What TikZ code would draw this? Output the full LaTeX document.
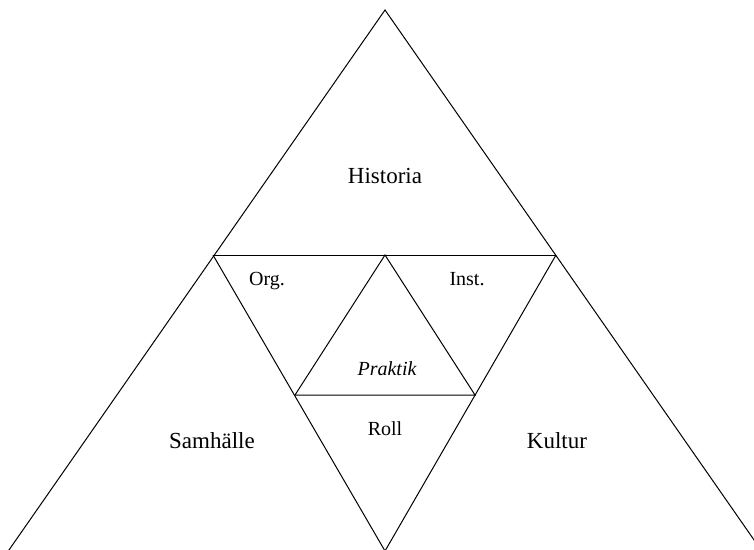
\documentclass[tikz,border=0pt]{standalone}
\usepackage{fontspec}
\setmainfont{Liberation Serif}
\usepackage{tikz}

\begin{document}
\begin{tikzpicture}[x=1pt,y=-1pt,line width=1pt,
	biglabel/.style={anchor=base,font=\fontsize{23}{26}\selectfont},
	smalllabel/.style={anchor=base,font=\fontsize{20}{23}\selectfont}]
	\useasboundingbox (0,0) rectangle (754,549);
	\clip (0,0) rectangle (754,549);
	% corners
	\coordinate (top) at (385,10);
	\coordinate (left) at (2,560);
	\coordinate (right) at (768,560);
	\coordinate (ml) at (213,255);
	\coordinate (mr) at (556,255);
	\coordinate (bot) at (385,551);
	\coordinate (mt) at (385,255);
	\coordinate (il) at (295,395);
	\coordinate (ir) at (475,395);

	% outer
	\draw (left) -- (top) -- (right);
	\draw (ml) -- (mr);
	% middle
	\draw (ml) -- (bot) -- (mr);
	% inner
	\draw (mt) -- (il) -- (ir) -- cycle;

	% label
	\node[biglabel] (historia) at (385,183) {Historia};
	\node[smalllabel] (org) at (267,285) {Org.};
	\node[smalllabel] (inst) at (467,285) {Inst.};
	\node[smalllabel] (praktik) at (387,375) {\itshape Praktik};
	\node[smalllabel] (roll) at (385,435) {Roll};
	\node[biglabel] (samhalle) at (212,448) {Samhälle};
	\node[biglabel] (kultur) at (557,448) {Kultur};
\end{tikzpicture}
\end{document}
